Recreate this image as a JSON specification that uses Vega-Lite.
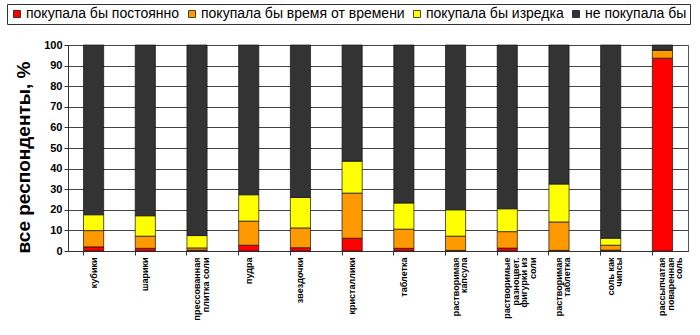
{
  "$schema": "https://vega.github.io/schema/vega-lite/v6.json",
  "width": 620,
  "height": 206,
  "autosize": {"type": "none"},
  "padding": {"left": 68, "top": 45, "right": 12, "bottom": 84},
  "background": "white",
  "config": {
    "font": "Liberation Sans",
    "view": {"stroke": "#555555", "strokeWidth": 1}
  },
  "data": {
    "values": [
      {"cat": "кубики", "resp": "покупала бы постоянно", "k": 1, "v": 2.0},
      {"cat": "кубики", "resp": "покупала бы время от времени", "k": 2, "v": 7.9},
      {"cat": "кубики", "resp": "покупала бы изредка", "k": 3, "v": 7.7},
      {"cat": "кубики", "resp": "не покупала бы", "k": 4, "v": 82.4},
      {"cat": "шарики", "resp": "покупала бы постоянно", "k": 1, "v": 1.3},
      {"cat": "шарики", "resp": "покупала бы время от времени", "k": 2, "v": 5.9},
      {"cat": "шарики", "resp": "покупала бы изредка", "k": 3, "v": 9.9},
      {"cat": "шарики", "resp": "не покупала бы", "k": 4, "v": 82.9},
      {"cat": "прессованная|плитка соли", "resp": "покупала бы постоянно", "k": 1, "v": 0.4},
      {"cat": "прессованная|плитка соли", "resp": "покупала бы время от времени", "k": 2, "v": 1.1},
      {"cat": "прессованная|плитка соли", "resp": "покупала бы изредка", "k": 3, "v": 6.0},
      {"cat": "прессованная|плитка соли", "resp": "не покупала бы", "k": 4, "v": 92.5},
      {"cat": "пудра", "resp": "покупала бы постоянно", "k": 1, "v": 2.8},
      {"cat": "пудра", "resp": "покупала бы время от времени", "k": 2, "v": 11.7},
      {"cat": "пудра", "resp": "покупала бы изредка", "k": 3, "v": 12.8},
      {"cat": "пудра", "resp": "не покупала бы", "k": 4, "v": 72.7},
      {"cat": "звездочки", "resp": "покупала бы постоянно", "k": 1, "v": 1.6},
      {"cat": "звездочки", "resp": "покупала бы время от времени", "k": 2, "v": 9.6},
      {"cat": "звездочки", "resp": "покупала бы изредка", "k": 3, "v": 14.8},
      {"cat": "звездочки", "resp": "не покупала бы", "k": 4, "v": 74.0},
      {"cat": "кристаллики", "resp": "покупала бы постоянно", "k": 1, "v": 6.2},
      {"cat": "кристаллики", "resp": "покупала бы время от времени", "k": 2, "v": 21.9},
      {"cat": "кристаллики", "resp": "покупала бы изредка", "k": 3, "v": 15.5},
      {"cat": "кристаллики", "resp": "не покупала бы", "k": 4, "v": 56.4},
      {"cat": "таблетка", "resp": "покупала бы постоянно", "k": 1, "v": 1.3},
      {"cat": "таблетка", "resp": "покупала бы время от времени", "k": 2, "v": 9.3},
      {"cat": "таблетка", "resp": "покупала бы изредка", "k": 3, "v": 12.7},
      {"cat": "таблетка", "resp": "не покупала бы", "k": 4, "v": 76.7},
      {"cat": "растворимая|капсула", "resp": "покупала бы постоянно", "k": 1, "v": 0.3},
      {"cat": "растворимая|капсула", "resp": "покупала бы время от времени", "k": 2, "v": 6.9},
      {"cat": "растворимая|капсула", "resp": "покупала бы изредка", "k": 3, "v": 12.8},
      {"cat": "растворимая|капсула", "resp": "не покупала бы", "k": 4, "v": 80.0},
      {"cat": "растворимые|разноцвет.|фигурки из|соли", "resp": "покупала бы постоянно", "k": 1, "v": 1.4},
      {"cat": "растворимые|разноцвет.|фигурки из|соли", "resp": "покупала бы время от времени", "k": 2, "v": 8.0},
      {"cat": "растворимые|разноцвет.|фигурки из|соли", "resp": "покупала бы изредка", "k": 3, "v": 11.1},
      {"cat": "растворимые|разноцвет.|фигурки из|соли", "resp": "не покупала бы", "k": 4, "v": 79.5},
      {"cat": "растворимая|таблетка", "resp": "покупала бы постоянно", "k": 1, "v": 0.3},
      {"cat": "растворимая|таблетка", "resp": "покупала бы время от времени", "k": 2, "v": 13.8},
      {"cat": "растворимая|таблетка", "resp": "покупала бы изредка", "k": 3, "v": 18.4},
      {"cat": "растворимая|таблетка", "resp": "не покупала бы", "k": 4, "v": 67.5},
      {"cat": "соль как|чипсы", "resp": "покупала бы постоянно", "k": 1, "v": 0.4},
      {"cat": "соль как|чипсы", "resp": "покупала бы время от времени", "k": 2, "v": 2.4},
      {"cat": "соль как|чипсы", "resp": "покупала бы изредка", "k": 3, "v": 3.4},
      {"cat": "соль как|чипсы", "resp": "не покупала бы", "k": 4, "v": 93.8},
      {"cat": "рассыпчатая|поваренная|соль", "resp": "покупала бы постоянно", "k": 1, "v": 93.6},
      {"cat": "рассыпчатая|поваренная|соль", "resp": "покупала бы время от времени", "k": 2, "v": 3.8},
      {"cat": "рассыпчатая|поваренная|соль", "resp": "покупала бы изредка", "k": 3, "v": 0.2},
      {"cat": "рассыпчатая|поваренная|соль", "resp": "не покупала бы", "k": 4, "v": 2.4}
    ]
  },
  "layer": [
    {
      "mark": {"type": "bar", "stroke": "#111111", "strokeWidth": 0.7},
      "encoding": {
        "x": {
          "field": "cat",
          "type": "nominal",
          "sort": null,
          "scale": {"paddingInner": 0.61, "paddingOuter": 0.3},
          "axis": {
            "orient": "bottom",
            "title": null,
            "labelAngle": -90,
            "labelAlign": "right",
            "labelBaseline": "middle",
            "labelExpr": "split(datum.label, '|')",
            "labelFont": "Liberation Sans",
            "labelFontWeight": "bold",
            "labelFontSize": 9,
            "labelLineHeight": 8.5,
            "labelColor": "#000000",
            "labelPadding": 6,
            "ticks": false,
            "domain": false,
            "labelOverlap": false,
            "labelBound": false
          }
        },
        "y": {
          "field": "v",
          "type": "quantitative",
          "stack": "zero",
          "scale": {"domain": [0, 100], "nice": false},
          "axis": {
            "title": "все респонденты, %",
            "titleFont": "Liberation Sans",
            "titleFontSize": 19,
            "titleFontWeight": "bold",
            "titleColor": "#000000",
            "titlePadding": 10,
            "titleY": 112,
            "values": [0, 10, 20, 30, 40, 50, 60, 70, 80, 90, 100],
            "labelOverlap": false,
            "labelFont": "Liberation Sans",
            "labelFontWeight": "bold",
            "labelFontSize": 11,
            "labelColor": "#000000",
            "labelPadding": 2,
            "tickSize": 4,
            "tickColor": "#333333",
            "domainColor": "#333333",
            "gridColor": "#444444",
            "gridWidth": 1,
            "grid": true
          }
        },
        "color": {
          "field": "resp",
          "type": "nominal",
          "scale": {
            "domain": ["покупала бы постоянно", "покупала бы время от времени", "покупала бы изредка", "не покупала бы"],
            "range": ["#ff0000", "#ff9900", "#ffff00", "#333333"]
          },
          "legend": {
            "title": null,
            "orient": "none",
            "legendX": -61,
            "legendY": -41,
            "direction": "horizontal",
            "columns": 4,
            "columnPadding": 5,
            "symbolType": "square",
            "symbolSize": 49,
            "symbolStrokeColor": "#000000",
            "symbolStrokeWidth": 0.7,
            "labelFont": "Liberation Sans",
            "labelFontSize": 14,
            "labelColor": "#000000",
            "labelOffset": 2,
            "labelLimit": 300,
            "strokeColor": "#333333",
            "padding": 3
          }
        },
        "order": {"field": "k", "type": "quantitative"}
      }
    },
    {
      "mark": {"type": "bar", "opacity": 0},
      "encoding": {
        "x": {
          "field": "cat",
          "type": "nominal",
          "sort": null,
          "axis": {
            "orient": "bottom",
            "title": null,
            "labels": false,
            "bandPosition": 0,
            "tickSize": 4,
            "tickColor": "#333333",
            "domainColor": "#333333"
          }
        },
        "y": {"field": "v", "type": "quantitative", "stack": "zero", "axis": null}
      }
    }
  ],
  "resolve": {"axis": {"x": "independent", "y": "independent"}}
}
